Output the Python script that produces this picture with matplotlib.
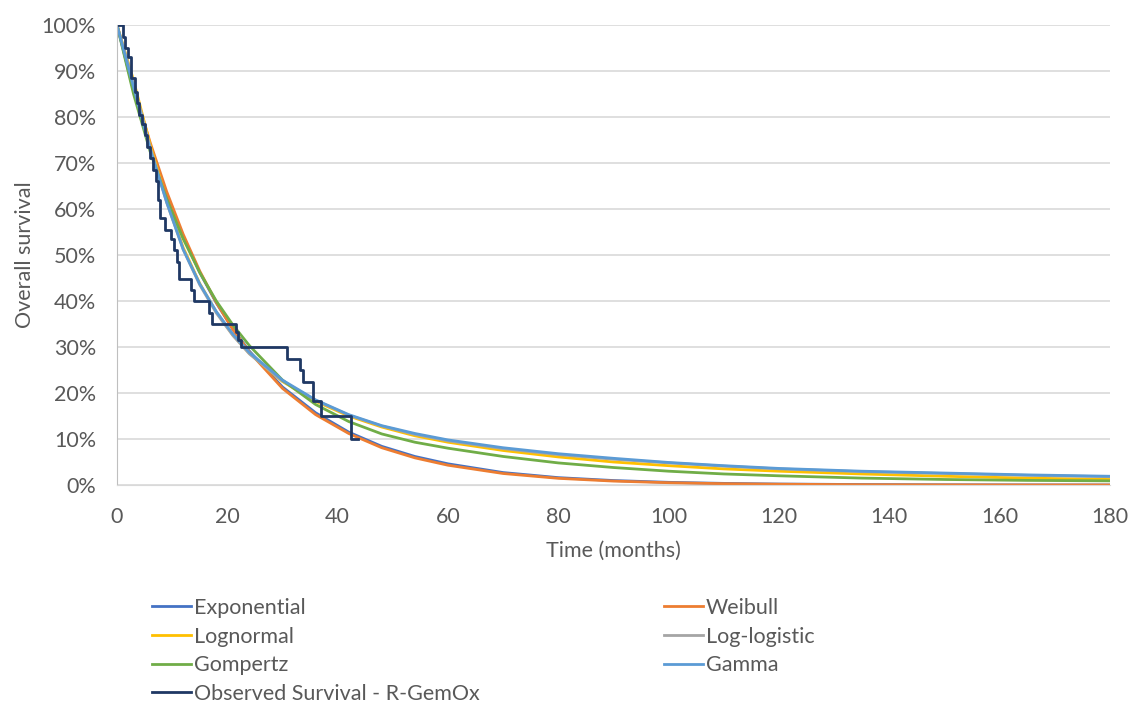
import matplotlib
matplotlib.use("Agg")
import matplotlib.pyplot as plt
from matplotlib.ticker import PercentFormatter

plt.rcParams["font.family"] = ["Lato", "DejaVu Sans"]

# model curves (survival fraction at each month)
months = [0, 3, 6, 9, 12, 15, 18, 21, 24, 30, 36, 42, 48, 54, 60,
          70, 80, 90, 100, 110, 120, 135, 150, 165, 180]
exponential = [1.0, 0.857, 0.734, 0.629, 0.539, 0.462, 0.396, 0.339, 0.291, 0.213,
               0.157, 0.115, 0.084, 0.062, 0.046, 0.027, 0.016, 0.0097, 0.0058,
               0.0035, 0.0021, 0.001, 0.0004, 0.0002, 0.0001]
weibull = [1.0, 0.866, 0.745, 0.638, 0.545, 0.465, 0.397, 0.338, 0.289, 0.210,
           0.153, 0.112, 0.081, 0.059, 0.043, 0.025, 0.0145, 0.0085, 0.005,
           0.0029, 0.0017, 0.0007, 0.0003, 0.0001, 0.0001]
lognormal = [1.0, 0.880, 0.740, 0.618, 0.516, 0.438, 0.376, 0.326, 0.286, 0.225,
             0.182, 0.150, 0.126, 0.107, 0.093, 0.075, 0.061, 0.050, 0.042,
             0.035, 0.030, 0.024, 0.019, 0.015, 0.012]
loglogistic = [1.0, 0.875, 0.735, 0.614, 0.512, 0.435, 0.374, 0.325, 0.285, 0.226,
               0.184, 0.152, 0.128, 0.110, 0.096, 0.079, 0.066, 0.056, 0.048,
               0.041, 0.035, 0.029, 0.025, 0.021, 0.018]
gompertz = [1.0, 0.850, 0.725, 0.622, 0.535, 0.462, 0.400, 0.348, 0.303, 0.228,
            0.175, 0.138, 0.111, 0.093, 0.080, 0.062, 0.048, 0.038, 0.030,
            0.024, 0.020, 0.015, 0.012, 0.010, 0.009]
gamma = [1.0, 0.865, 0.730, 0.615, 0.512, 0.437, 0.377, 0.328, 0.288, 0.228,
         0.185, 0.153, 0.129, 0.112, 0.098, 0.081, 0.068, 0.058, 0.049,
         0.042, 0.036, 0.030, 0.026, 0.022, 0.019]

# observed Kaplan-Meier steps (R-GemOx)
obs_t = [0, 1.0, 1.5, 2.0, 2.6, 3.3, 3.6, 4.0, 4.5, 5.0, 5.5, 6.0, 6.5, 7.0, 7.5,
         7.8, 8.7, 9.8, 10.3, 10.8, 11.3, 13.5, 14.0, 16.6, 17.2, 21.6, 22.0,
         22.4, 30.9, 33.2, 33.7, 35.6, 37.0, 42.5, 43.7]
obs_s = [1.0, 0.975, 0.95, 0.93, 0.885, 0.855, 0.83, 0.805, 0.785, 0.76, 0.735,
         0.71, 0.685, 0.66, 0.62, 0.58, 0.555, 0.535, 0.51, 0.485, 0.447, 0.424,
         0.40, 0.373, 0.35, 0.332, 0.315, 0.299, 0.273, 0.249, 0.223, 0.182,
         0.149, 0.10, 0.10]

series = [
    ("Exponential", exponential, "#4472C4"),
    ("Weibull", weibull, "#ED7D31"),
    ("Lognormal", lognormal, "#FFC000"),
    ("Log-logistic", loglogistic, "#A5A5A5"),
    ("Gompertz", gompertz, "#70AD47"),
    ("Gamma", gamma, "#5B9BD5"),
]

FS = 15.5
fig = plt.figure(figsize=(11.31, 7.04), dpi=100)
ax = fig.add_axes([117 / 1131, 1 - 485 / 704, (1110 - 117) / 1131, 460 / 704])

handles = {}
for name, vals, col in series:
    handles[name], = ax.plot(months, vals, color=col, lw=2.0, label=name)
handles["obs"], = ax.step(obs_t, obs_s, where="post", color="#1F3864", lw=2.0,
                          label="Observed Survival - R-GemOx")

ax.set_xlim(0, 180)
ax.set_ylim(0, 1.0)
ax.set_xticks(range(0, 181, 20))
ax.set_yticks([i / 10 for i in range(11)])
ax.yaxis.set_major_formatter(PercentFormatter(1.0, decimals=0))
ax.grid(axis="y", color="#D9D9D9", lw=1.2)
ax.set_axisbelow(True)
for s in ("top", "right"):
    ax.spines[s].set_visible(False)
ax.spines["left"].set_color("#BFBFBF")
ax.spines["bottom"].set_color("#D9D9D9")
ax.tick_params(axis="y", length=0, labelsize=FS, colors="#595959", pad=15)
ax.tick_params(axis="x", length=0, labelsize=FS, colors="#595959", pad=16)
ax.set_xlabel("Time (months)", fontsize=FS, color="#595959", labelpad=10)
ax.set_ylabel("Overall survival", fontsize=FS, color="#595959", labelpad=5)

# row-wise legend order: column 1 then column 2
order = ["Exponential", "Lognormal", "Gompertz", "obs", "Weibull", "Log-logistic", "Gamma"]
hs = [handles[k] for k in order]
fig.legend(hs, [h.get_label() for h in hs], loc="upper left",
           bbox_to_anchor=(152 / 1131, 1 - 598 / 704), ncol=2, frameon=False,
           fontsize=FS, labelcolor="#595959", handlelength=1.8, handletextpad=0.15,
           columnspacing=8.55, labelspacing=0.40, borderaxespad=0, borderpad=0)

fig.savefig("out.png", dpi=100)
